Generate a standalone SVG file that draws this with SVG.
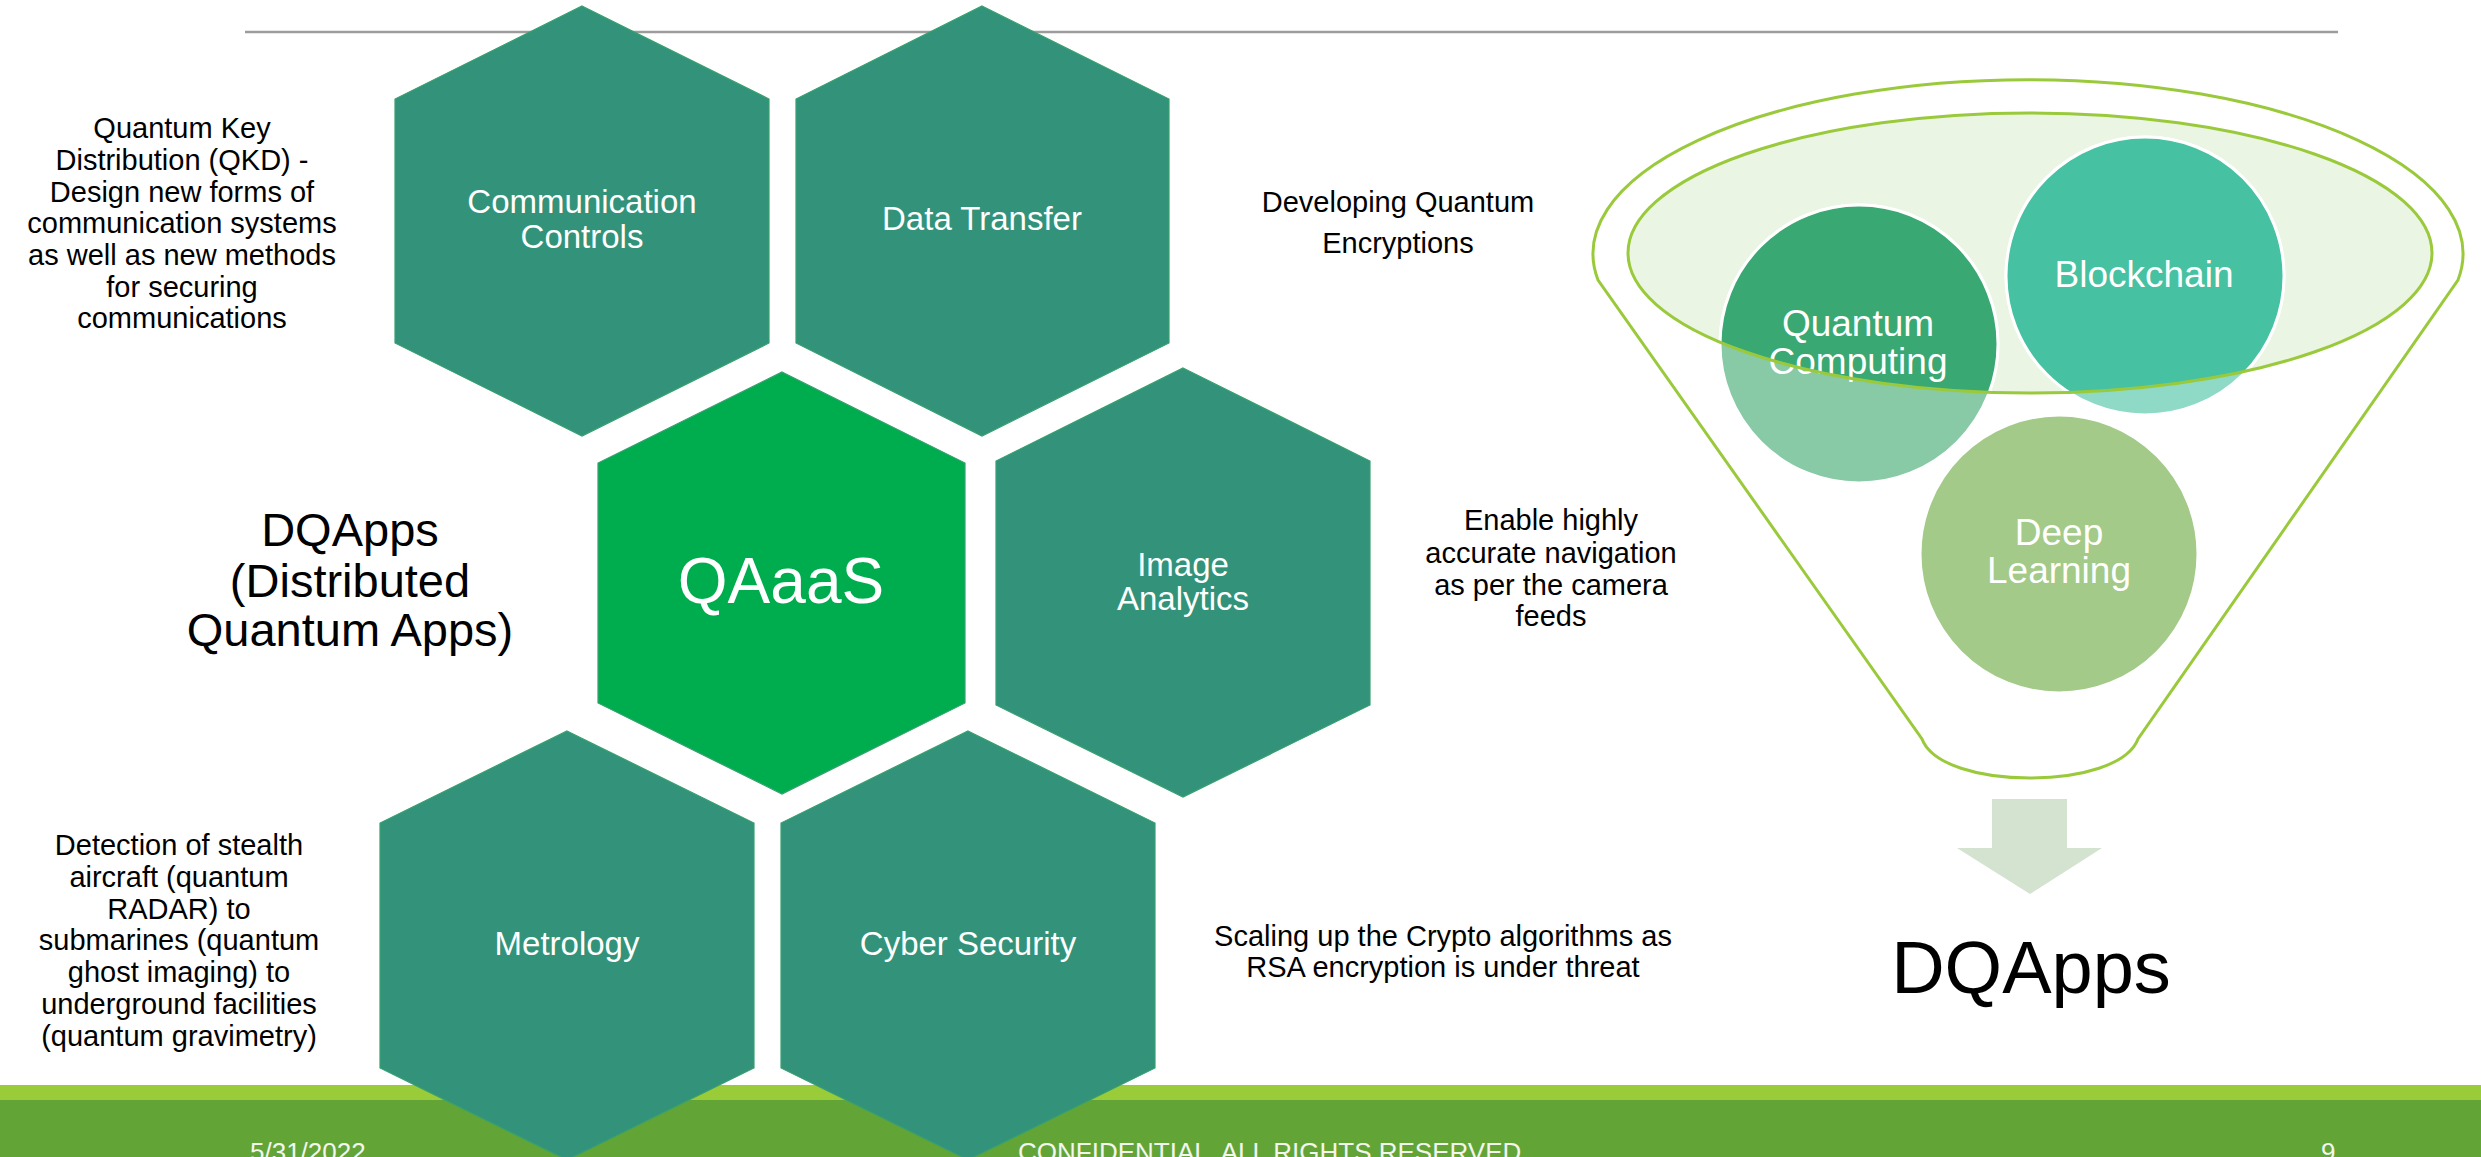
<svg xmlns="http://www.w3.org/2000/svg" width="2481" height="1157" viewBox="0 0 2481 1157">
  <style>
    text { font-family: "Liberation Sans", Arial, sans-serif; }
    .hex { fill: #32937A; stroke: #38A06F; stroke-width: 1.2; }
    .hex-main { fill: #00AD4E; }
    .hl { font-size: 33px; fill: #FFFFFF; text-anchor: middle; }
    .desc { font-size: 29px; fill: #000000; text-anchor: middle; }
    .circ-t { font-size: 37px; fill: #FFFFFF; text-anchor: middle; }
    .foot { font-size: 26px; fill: #F2F6EE; white-space: pre; }
    .ring { fill: none; stroke: #9ACA3C; stroke-width: 3; }
    .cw { stroke: #FFFFFF; stroke-width: 3; }
  </style>
  <defs>
    <clipPath id="innerClip">
      <ellipse cx="2030" cy="253" rx="402" ry="140"/>
    </clipPath>
  </defs>

  <rect x="0" y="0" width="2481" height="1157" fill="#FFFFFF"/>

  <!-- header line -->
  <line x1="245" y1="32" x2="2338" y2="32" stroke="#9C9C9C" stroke-width="2.5"/>

  <!-- footer -->
  <g id="footer">
    <rect x="0" y="1085" width="2481" height="15" fill="#9ACB38"/>
    <rect x="0" y="1100" width="2481" height="57" fill="#62A536"/>
  </g>

  <!-- hexagon nodes -->
  <g id="hex-communication-controls">
    <polygon class="hex" points="582,6 769,99 769,343 582,436 395,343 395,99"/>
    <text class="hl" x="582" y="213">Communication</text>
    <text class="hl" x="582" y="248">Controls</text>
  </g>
  <g id="hex-data-transfer">
    <polygon class="hex" points="982,6 1169,99 1169,343 982,436 796,343 796,99"/>
    <text class="hl" x="982" y="230">Data Transfer</text>
  </g>
  <g id="hex-qaaas">
    <polygon class="hex hex-main" points="782,372 965,463 965,703 782,794 598,703 598,463"/>
    <text x="781" y="603" font-size="64" fill="#FFFFFF" text-anchor="middle">QAaaS</text>
  </g>
  <g id="hex-image-analytics">
    <polygon class="hex" points="1183,368 1370,461 1370,705 1183,797 996,705 996,461"/>
    <text class="hl" x="1183" y="576">Image</text>
    <text class="hl" x="1183" y="610">Analytics</text>
  </g>
  <g id="hex-metrology">
    <polygon class="hex" points="567,731 754,823 754,1068 567,1160 380,1068 380,823"/>
    <text class="hl" x="567" y="955">Metrology</text>
  </g>
  <g id="hex-cyber-security">
    <polygon class="hex" points="968,731 1155,823 1155,1068 968,1160 781,1068 781,823"/>
    <text class="hl" x="968" y="955">Cyber Security</text>
  </g>

  <!-- description texts -->
  <g id="desc-qkd">
    <text class="desc" x="182" y="138">Quantum Key</text>
    <text class="desc" x="182" y="170">Distribution (QKD) -</text>
    <text class="desc" x="182" y="202">Design new forms of</text>
    <text class="desc" x="182" y="233">communication systems</text>
    <text class="desc" x="182" y="265">as well as new methods</text>
    <text class="desc" x="182" y="297">for securing</text>
    <text class="desc" x="182" y="328">communications</text>
  </g>
  <g id="desc-dqapps">
    <text x="350" y="546" font-size="47" fill="#000000" text-anchor="middle">DQApps</text>
    <text x="350" y="597" font-size="47" fill="#000000" text-anchor="middle">(Distributed</text>
    <text x="350" y="646" font-size="47" fill="#000000" text-anchor="middle">Quantum Apps)</text>
  </g>
  <g id="desc-detection">
    <text class="desc" x="179" y="855">Detection of stealth</text>
    <text class="desc" x="179" y="887">aircraft (quantum</text>
    <text class="desc" x="179" y="919">RADAR) to</text>
    <text class="desc" x="179" y="950">submarines (quantum</text>
    <text class="desc" x="179" y="982">ghost imaging) to</text>
    <text class="desc" x="179" y="1014">underground facilities</text>
    <text class="desc" x="179" y="1046">(quantum gravimetry)</text>
  </g>
  <g id="desc-encryption">
    <text class="desc" x="1398" y="212">Developing Quantum</text>
    <text class="desc" x="1398" y="253">Encryptions</text>
  </g>
  <g id="desc-navigation">
    <text class="desc" x="1551" y="530">Enable highly</text>
    <text class="desc" x="1551" y="563">accurate navigation</text>
    <text class="desc" x="1551" y="595">as per the camera</text>
    <text class="desc" x="1551" y="626">feeds</text>
  </g>
  <g id="desc-crypto">
    <text class="desc" x="1443" y="946">Scaling up the Crypto algorithms as</text>
    <text class="desc" x="1443" y="977">RSA encryption is under threat</text>
  </g>

  <!-- funnel -->
  <g id="funnel">
    <ellipse cx="2030" cy="253" rx="402" ry="140" fill="#EBF5E3"/>
    <path class="ring" d="M1598,280 A435,174 0 1 1 2458,280 L2138,739 C2128,765 2080,778 2030,778 C1980,778 1932,765 1922,739 Z"/>
  </g>
  <g id="circle-quantum-computing">
    <circle cx="1859" cy="344" r="139" fill="#88C9A6" class="cw"/>
    <circle cx="1859" cy="344" r="139" fill="#3AA872" class="cw" clip-path="url(#innerClip)"/>
    <text class="circ-t" x="1858" y="336">Quantum</text>
    <text class="circ-t" x="1858" y="374">Computing</text>
  </g>
  <g id="circle-blockchain">
    <circle cx="2145" cy="276" r="139" fill="#8FD9C7" class="cw"/>
    <circle cx="2145" cy="276" r="139" fill="#46C1A2" class="cw" clip-path="url(#innerClip)"/>
    <text class="circ-t" x="2144" y="287">Blockchain</text>
  </g>
  <g id="circle-deep-learning">
    <circle cx="2059" cy="554" r="139" fill="#A3CA88" class="cw"/>
    <text class="circ-t" x="2059" y="545">Deep</text>
    <text class="circ-t" x="2059" y="583">Learning</text>
  </g>
  <ellipse class="ring" cx="2030" cy="253" rx="402" ry="140"/>

  <!-- connectors -->
  <g id="connectors">
    <polygon points="1992,799 2067,799 2067,848 2102,848 2030,894 1957,848 1992,848" fill="#D4E2D0"/>
  </g>

  <g id="result-dqapps">
    <text x="2031" y="993" font-size="74" fill="#000000" text-anchor="middle">DQApps</text>
  </g>

  <!-- footer text -->
  <g id="footer-text">
    <text class="foot" x="250" y="1161">5/31/2022</text>
    <text class="foot" x="1018" y="1161">CONFIDENTIAL  ALL RIGHTS RESERVED</text>
    <text class="foot" x="2321" y="1161">9</text>
  </g>
</svg>
